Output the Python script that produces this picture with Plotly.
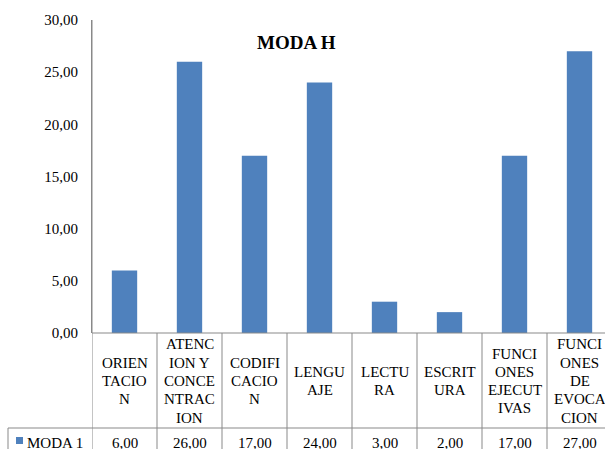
import plotly.graph_objects as go

# Category names, split into the lines shown in the table header
category_lines = [
    ["ORIEN", "TACIO", "N"],
    ["ATENC", "ION Y", "CONCE", "NTRAC", "ION"],
    ["CODIFI", "CACIO", "N"],
    ["LENGU", "AJE"],
    ["LECTU", "RA"],
    ["ESCRIT", "URA"],
    ["FUNCI", "ONES", "EJECUT", "IVAS"],
    ["FUNCI", "ONES", "DE", "EVOCA", "CION"],
]
categories = ["".join(lines) for lines in category_lines]
series_name = "MODA 1"
values = [6, 26, 17, 24, 3, 2, 17, 27]

W, H = 605, 449
L, T, B = 92, 20, 116          # plot area: x 92..605, y 20..333
PLOT_W = W - L
PLOT_H = H - T - B
BOTTOM = H - B                 # pixel row of the value axis zero
CAT_PX = 65                    # pixel width of one category
BAR = "#4F81BD"
GRID = "#898989"
FONT = "'Times New Roman', 'Liberation Serif', serif"


def py(p):
    """pixel row -> paper y"""
    return (BOTTOM - p) / PLOT_H


def px(p):
    """pixel column -> paper x"""
    return (p - L) / PLOT_W


n = len(categories)
x_idx = list(range(n))
x_max = -0.5 + PLOT_W / CAT_PX

fig = go.Figure(
    go.Bar(
        x=x_idx,
        y=values,
        width=0.39,
        marker=dict(color=BAR, line=dict(width=0)),
        name=series_name,
        hoverinfo="skip",
    )
)

shapes = []
annotations = []

# vertical table borders at category boundaries
for k in range(n + 1):
    b = k - 0.5
    y_top = py(T) if k == 0 else py(BOTTOM)
    shapes.append(dict(type="line", xref="x", yref="paper", x0=b, x1=b,
                       y0=y_top, y1=py(H + 20), line=dict(color=GRID, width=1)))

# horizontal rules: axis baseline and the data-row separator
shapes.append(dict(type="line", xref="paper", yref="paper", x0=0, x1=1,
                   y0=0, y1=0, line=dict(color=GRID, width=1)))
ROW_Y = 428
shapes.append(dict(type="line", xref="paper", yref="paper", x0=px(8), x1=1,
                   y0=py(ROW_Y), y1=py(ROW_Y), line=dict(color=GRID, width=1)))
# left border of the series-name cell
shapes.append(dict(type="line", xref="paper", yref="paper", x0=px(8), x1=px(8),
                   y0=py(ROW_Y), y1=py(H + 20), line=dict(color=GRID, width=1)))
# legend key swatch
shapes.append(dict(type="rect", xref="paper", yref="paper", x0=px(16), x1=px(23),
                   y0=py(444), y1=py(437), fillcolor=BAR, line=dict(width=0)))

# header cells: category names, one annotation per line
HEAD_C = 381
LINE_H = 18.3
for k, lines in enumerate(category_lines):
    m = len(lines)
    for i, txt in enumerate(lines):
        yc = HEAD_C + (i - (m - 1) / 2) * LINE_H
        annotations.append(dict(x=k, y=py(yc), xref="x", yref="paper", text=txt,
                                showarrow=False, xanchor="center", yanchor="middle",
                                font=dict(family=FONT, size=15, color="#000")))

# data row
ROW_C = 443
for k, v in enumerate(values):
    annotations.append(dict(x=k, y=py(ROW_C), xref="x", yref="paper",
                            text=f"{v:.2f}".replace(".", ","), showarrow=False,
                            xanchor="center", yanchor="middle",
                            font=dict(family=FONT, size=15, color="#000")))
annotations.append(dict(x=px(25), y=py(ROW_C), xref="paper", yref="paper",
                        text=series_name, showarrow=False, xanchor="left",
                        yanchor="middle", font=dict(family=FONT, size=15, color="#000")))

# chart title
annotations.append(dict(x=px(296), y=py(43), xref="paper", yref="paper",
                        text="<b>MODA H</b>", showarrow=False, xanchor="center",
                        yanchor="middle", font=dict(family=FONT, size=19, color="#000")))

fig.update_layout(
    width=W, height=H,
    margin=dict(l=L, r=0, t=T, b=B, pad=0),
    paper_bgcolor="white", plot_bgcolor="white",
    showlegend=False,
    separators=", ",
    font=dict(family=FONT, size=15, color="#000"),
    xaxis=dict(range=[-0.5, x_max], showticklabels=False, showgrid=False,
               zeroline=False, showline=False, ticks="", fixedrange=True),
    yaxis=dict(range=[0, 30], dtick=5, tick0=0, tickformat=".2f",
               showgrid=False, zeroline=False, showline=True, linecolor=GRID,
               linewidth=1, ticks="", ticklabelstandoff=10,
               tickfont=dict(family=FONT, size=15, color="#000"), fixedrange=True),
    shapes=shapes,
    annotations=annotations,
)

fig.write_html("out.html", config={"displayModeBar": False})
